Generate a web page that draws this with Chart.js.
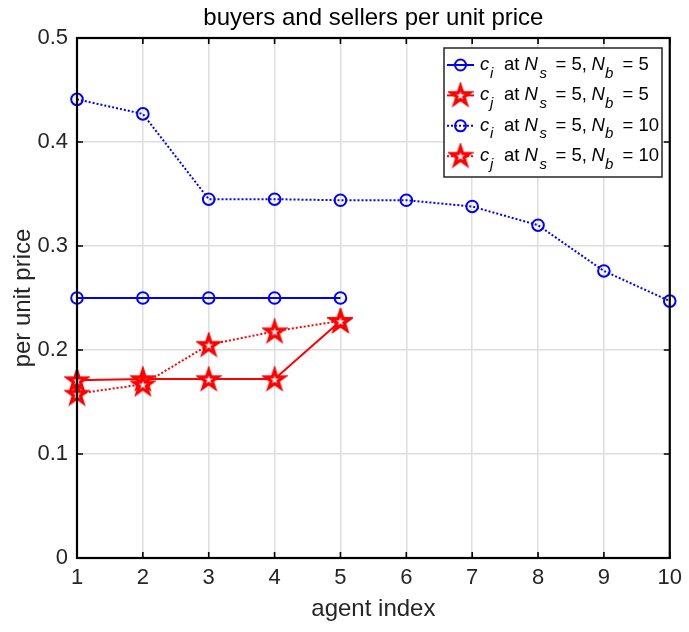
<!DOCTYPE html>
<html>
<head>
<meta charset="utf-8">
<script src="https://cdn.jsdelivr.net/npm/chart.js@4/dist/chart.umd.min.js"></script>
<style>
  html, body { margin: 0; padding: 0; background: #ffffff; }
  #wrap { width: 689px; height: 632px; }
</style>
</head>
<body>
<div id="wrap"><canvas id="chart" width="689" height="632"></canvas></div>
<script>
// agent indices on the x axis
const agentIndex = [1, 2, 3, 4, 5, 6, 7, 8, 9, 10];
// per unit prices, Ns = 5 and Nb = 5
const ciNb5 = [0.25, 0.25, 0.25, 0.25, 0.25];
const cjNb5 = [0.171, 0.172, 0.172, 0.172, 0.228];
// per unit prices, Ns = 5 and Nb = 10
const ciNb10 = [0.441, 0.427, 0.345, 0.345, 0.344, 0.344, 0.338, 0.320, 0.276, 0.247];
const cjNb10 = [0.158, 0.167, 0.205, 0.218, 0.228];
// y axis ticks
const priceTicks = [0, 0.1, 0.2, 0.3, 0.4, 0.5];
// legend wording
const legendSubs = ['i', 'j', 'i', 'j'];
const legendNb = ['5', '5', '10', '10'];

const FONT = '"Liberation Sans", Arial, sans-serif';
const BLUE = '#0000ff';
const RED = '#ff0000';

const toPoints = ys => ys.map((y, i) => ({ x: agentIndex[i], y }));

// five-pointed star marker
function starPath(ctx, cx, cy, R, r) {
  ctx.beginPath();
  for (let k = 0; k < 10; k++) {
    const a = -Math.PI / 2 + k * Math.PI / 5;
    const rad = k % 2 ? r : R;
    const px = cx + rad * Math.cos(a), py = cy + rad * Math.sin(a);
    if (k === 0) ctx.moveTo(px, py); else ctx.lineTo(px, py);
  }
  ctx.closePath();
}
const starImg = document.createElement('canvas');
starImg.width = 26; starImg.height = 26;
(function () {
  const g = starImg.getContext('2d');
  starPath(g, 13, 13.8, 9.6, 3.7);
  g.fillStyle = '#ffffff';
  g.fill();
  g.lineWidth = 3.3;
  g.lineJoin = 'miter';
  g.miterLimit = 4;
  g.strokeStyle = RED;
  g.stroke();
})();

// axes box with inward tick marks
const boxPlugin = {
  id: 'axesBox',
  afterDatasetsDraw(chart) {
    const { ctx, chartArea: a, scales } = chart;
    ctx.save();
    ctx.strokeStyle = '#000000';
    ctx.lineWidth = 1.6;
    ctx.beginPath();
    scales.x.ticks.forEach(t => {
      const px = scales.x.getPixelForValue(t.value);
      ctx.moveTo(px, a.bottom); ctx.lineTo(px, a.bottom - 6);
      ctx.moveTo(px, a.top); ctx.lineTo(px, a.top + 6);
    });
    scales.y.ticks.forEach(t => {
      const py = scales.y.getPixelForValue(t.value);
      ctx.moveTo(a.left, py); ctx.lineTo(a.left + 6, py);
      ctx.moveTo(a.right, py); ctx.lineTo(a.right - 6, py);
    });
    ctx.stroke();
    ctx.lineWidth = 2.2;
    ctx.strokeRect(a.left, a.top, a.right - a.left, a.bottom - a.top);
    ctx.restore();
  }
};

// legend with subscripted labels
function legendText(ctx, s, x, y, size, italic) {
  ctx.font = (italic ? 'italic ' : '') + size + 'px ' + FONT;
  ctx.fillText(s, x, y);
}
const legendPlugin = {
  id: 'subLegend',
  afterDraw(chart) {
    const ctx = chart.ctx;
    const L = 444, T = 48, R = 662, B = 177;
    ctx.save();
    ctx.fillStyle = '#ffffff';
    ctx.fillRect(L, T, R - L, B - T);
    ctx.strokeStyle = '#262626';
    ctx.lineWidth = 1.5;
    ctx.strokeRect(L, T, R - L, B - T);
    chart.data.datasets.forEach((ds, i) => {
      const cy = 65 + i * 30.4;
      ctx.save();
      ctx.strokeStyle = ds.borderColor;
      ctx.lineWidth = 2;
      ctx.setLineDash(ds.borderDash || []);
      ctx.beginPath();
      ctx.moveTo(447, cy); ctx.lineTo(474, cy);
      ctx.stroke();
      ctx.setLineDash([]);
      if (ds.pointStyle === 'circle') {
        ctx.beginPath();
        ctx.arc(460.5, cy, 5.5, 0, Math.PI * 2);
        ctx.stroke();
      } else {
        ctx.drawImage(starImg, 460.5 - 13, cy - 13.5);
      }
      ctx.restore();
      ctx.fillStyle = '#000000';
      ctx.textBaseline = 'alphabetic';
      ctx.textAlign = 'left';
      const yb = cy + 5, ys = cy + 12.5;
      legendText(ctx, 'c', 480, yb, 18.5, true);
      legendText(ctx, legendSubs[i], 490, ys, 15, true);
      legendText(ctx, 'at', 504, yb, 18.5, false);
      legendText(ctx, 'N', 524.5, yb, 18.5, true);
      legendText(ctx, 's', 539.5, ys, 15, true);
      legendText(ctx, '= 5,', 555.5, yb, 18.5, false);
      legendText(ctx, 'N', 591.5, yb, 18.5, true);
      legendText(ctx, 'b', 605, ys, 15, true);
      legendText(ctx, '= ' + legendNb[i], 622.5, yb, 18.5, false);
    });
    ctx.restore();
  }
};

const tickFont = { family: FONT, size: 22 };
const gridStyle = { color: '#dedede', lineWidth: 1.5, drawTicks: false };

new Chart(document.getElementById('chart'), {
  type: 'line',
  data: {
    datasets: [
      { data: toPoints(ciNb5), borderColor: BLUE, borderWidth: 2, pointStyle: 'circle',
        pointRadius: 5.8, pointBorderWidth: 2, pointBackgroundColor: 'rgba(0,0,0,0)', order: 4 },
      { data: toPoints(cjNb5), borderColor: RED, borderWidth: 2, pointStyle: starImg, order: 3 },
      { data: toPoints(ciNb10), borderColor: BLUE, borderWidth: 2, borderDash: [2, 2], pointStyle: 'circle',
        pointRadius: 5.8, pointBorderWidth: 2, pointBackgroundColor: 'rgba(0,0,0,0)', order: 2 },
      { data: toPoints(cjNb10), borderColor: RED, borderWidth: 2, borderDash: [2, 2], pointStyle: starImg, order: 1 }
    ].map(d => Object.assign({ fill: false, tension: 0, clip: false, pointBorderColor: d.borderColor }, d))
  },
  options: {
    responsive: false,
    animation: false,
    devicePixelRatio: 1,
    layout: { padding: { left: 0, right: 16, top: 0, bottom: 0 } },
    plugins: {
      legend: { display: false },
      tooltip: { enabled: false },
      title: {
        display: true,
        fullSize: false,
        text: 'buyers and sellers per unit price',
        color: '#000000',
        font: { family: FONT, size: 24, weight: 'normal', lineHeight: 1.2 },
        padding: { top: 4, bottom: 5.2 }
      }
    },
    scales: {
      x: {
        type: 'linear',
        min: 1, max: 10,
        afterBuildTicks: s => { s.ticks = agentIndex.map(v => ({ value: v })); },
        afterFit: s => { s.height = 74; },
        grid: gridStyle,
        border: { display: false },
        ticks: { color: '#262626', font: tickFont, padding: 7, maxRotation: 0, autoSkip: false },
        title: { display: true, text: 'agent index', color: '#262626',
                 font: { family: FONT, size: 24 }, padding: { top: 0, bottom: 8 } }
      },
      y: {
        type: 'linear',
        min: 0, max: 0.5,
        afterBuildTicks: s => { s.ticks = priceTicks.map(v => ({ value: v })); },
        afterFit: s => { s.width = 77; },
        grid: gridStyle,
        border: { display: false },
        ticks: { color: '#262626', font: tickFont, padding: 9,
                 callback: v => String(+Number(v).toFixed(1)) },
        title: { display: true, text: 'per unit price', color: '#262626',
                 font: { family: FONT, size: 24 }, padding: { top: 9, bottom: 0 } }
      }
    }
  },
  plugins: [boxPlugin, legendPlugin]
});
</script>
</body>
</html>
